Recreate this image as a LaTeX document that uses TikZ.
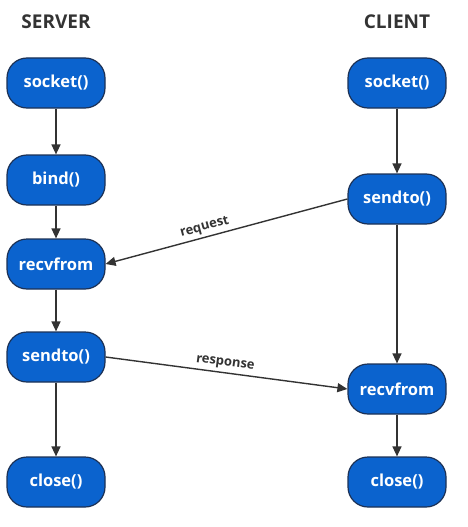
\documentclass[tikz,border=0pt]{standalone}
\usepackage{fontspec}
\setmainfont{Open Sans}
\usetikzlibrary{arrows.meta}
\definecolor{nodefill}{HTML}{0B63CE}
\definecolor{nodeedge}{HTML}{1C3155}
\definecolor{linec}{HTML}{333333}
\tikzset{
  fn/.style={draw=nodeedge, line width=1.2pt, fill=nodefill, rounded corners=20pt,
    minimum width=98pt, minimum height=50pt, text=white, font=\bfseries\fontsize{16.5}{18}\selectfont, inner sep=0pt},
  hdr/.style={text=linec, font=\bfseries\fontsize{19}{21}\selectfont},
  conn/.style={draw=linec, line width=1.4pt, -{Triangle[length=10pt,width=9pt]}},
  lbl/.style={text=linec, font=\bfseries\fontsize{13}{15}\selectfont, inner sep=3pt}
}
\begin{document}
\begin{tikzpicture}[x=1pt,y=-1pt]
\useasboundingbox (0,0) rectangle (467,527);
\node[hdr] (hs) at (56,22) {SERVER};
\node[hdr] (hc) at (397,22) {CLIENT};
\node[fn] (s1) at (56,83) {socket()};
\node[fn] (s2) at (56,180) {bind()};
\node[fn] (s3) at (56,264) {recvfrom};
\node[fn] (s4) at (56,357) {sendto()};
\node[fn] (s5) at (56,482) {close()};
\node[fn] (c1) at (397,83) {socket()};
\node[fn] (c2) at (397,199) {sendto()};
\node[fn] (c3) at (397,389) {recvfrom};
\node[fn] (c4) at (397,482) {close()};
\draw[conn] (s1) -- (s2);
\draw[conn] (s2) -- (s3);
\draw[conn] (s3) -- (s4);
\draw[conn] (s4) -- (s5);
\draw[conn] (c1) -- (c2);
\draw[conn] (c2) -- (c3);
\draw[conn] (c3) -- (c4);
\draw[conn] (c2.west) -- node[lbl, sloped, above, pos=0.58] {request} (s3.east);
\draw[conn] (s4.east) -- node[lbl, sloped, above, pos=0.49] {response} (c3.west);
\end{tikzpicture}
\end{document}
